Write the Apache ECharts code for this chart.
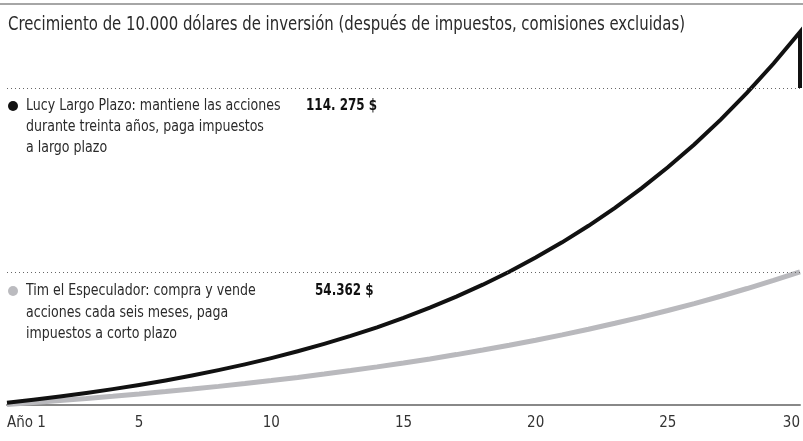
<!DOCTYPE html>
<html><head><meta charset="utf-8">
<script src="https://cdn.jsdelivr.net/npm/echarts@6/dist/echarts.min.js"></script>
<style>html,body{margin:0;padding:0;background:#fff}#c{width:803px;height:441px}</style>
</head><body><div id="c"></div>
<script>
const FONT = '"Liberation Sans Narrow","DejaVu Sans Condensed",sans-serif';
const years = [0,1,2,3,4,5,6,7,8,9,10,11,12,13,14,15,16,17,18,19,20,21,22,23,24,25,26,27,28,29,30];
const lucy = [11700,12686,13755,14914,16170,17533,19010,20612,22349,24232,26274,28488,30888,33491,36313,39373,42691,46288,50189,54418,59004,63976,69367,75212,81550,88422,95873,103952,112712,122210,132508];
const lucyFinal = 114275;
const tim = [11200,11806,12444,13117,13826,14574,15362,16193,17069,17992,18964,19990,21071,22210,23411,24677,26011,27418,28901,30464,32111,33847,35677,37607,39640,41784,44043,46425,48935,51581,54362];
const timFinal = 54362;
const tickLabels = {0:'Año 1',5:'5',10:'10',15:'15',20:'20',25:'25',30:'30'};
const title = 'Crecimiento de 10.000 dólares de inversión (después de impuestos, comisiones excluidas)';
const lucyText = ['Lucy Largo Plazo: mantiene las acciones','durante treinta años, paga impuestos','a largo plazo'];
const lucyValue = '114. 275 $';
const timText = ['Tim el Especulador: compra y vende','acciones cada seis meses, paga','impuestos a corto plazo'];
const timValue = '54.362 $';

const lucyData = years.map((y,i)=>[y,lucy[i]]);
lucyData.push([years[years.length-1], lucyFinal]);
const timData = years.map((y,i)=>[y,tim[i]]);

const chart = echarts.init(document.getElementById('c'));
const txt = (x,y,t,font,sx,fill)=>({type:'text',x:x,y:y,scaleX:sx,
  style:{text:t,font:font,fill:fill||'#2a2a2a',verticalAlign:'middle',align:'left'}});
const graphics = [
  {type:'line',shape:{x1:0,y1:4,x2:803,y2:4},style:{stroke:'#888',lineWidth:1.5}},
  txt(8,25.5,title,'19px '+FONT,0.872),
  {type:'circle',shape:{cx:13,cy:106,r:5},style:{fill:'#111'}},
  {type:'circle',shape:{cx:13,cy:291,r:5},style:{fill:'#bbbbbf'}},
];
lucyText.forEach((t,i)=>graphics.push(txt(26,106+i*21,t,'16px '+FONT,0.875)));
timText.forEach((t,i)=>graphics.push(txt(26,291+i*21.5,t,'16px '+FONT,0.875)));
graphics.push(txt(306,106,lucyValue,'bold 16px '+FONT,0.83,'#111'));
graphics.push(txt(315,291,timValue,'bold 16px '+FONT,0.83,'#111'));

chart.setOption({
  animation:false,
  grid:{left:7,right:3,top:4,bottom:36},
  xAxis:{type:'value',min:0,max:30,interval:5,
    axisLine:{show:true,lineStyle:{color:'#888',width:2}},
    axisTick:{show:false},splitLine:{show:false},
    axisLabel:{margin:11,color:'#333',fontFamily:FONT,fontSize:15,alignMinLabel:'left',alignMaxLabel:'right',
      formatter:v=>tickLabels[v]!==undefined?tickLabels[v]:''}},
  yAxis:{type:'value',min:11000,max:141600,show:false,splitLine:{show:false}},
  series:[
    {type:'line',data:timData,symbol:'none',lineStyle:{color:'#b9b9bd',width:5},z:2,
      markLine:{silent:true,symbol:'none',label:{show:false},lineStyle:{color:'#666',type:[1,3],width:1},data:[{yAxis:timFinal}]}},
    {type:'line',data:lucyData,symbol:'none',lineStyle:{color:'#111',width:4,join:'miter'},z:3,
      markLine:{silent:true,symbol:'none',label:{show:false},lineStyle:{color:'#666',type:[1,3],width:1},data:[{yAxis:lucyFinal}]}}
  ],
  graphic:graphics
});
</script></body></html>
